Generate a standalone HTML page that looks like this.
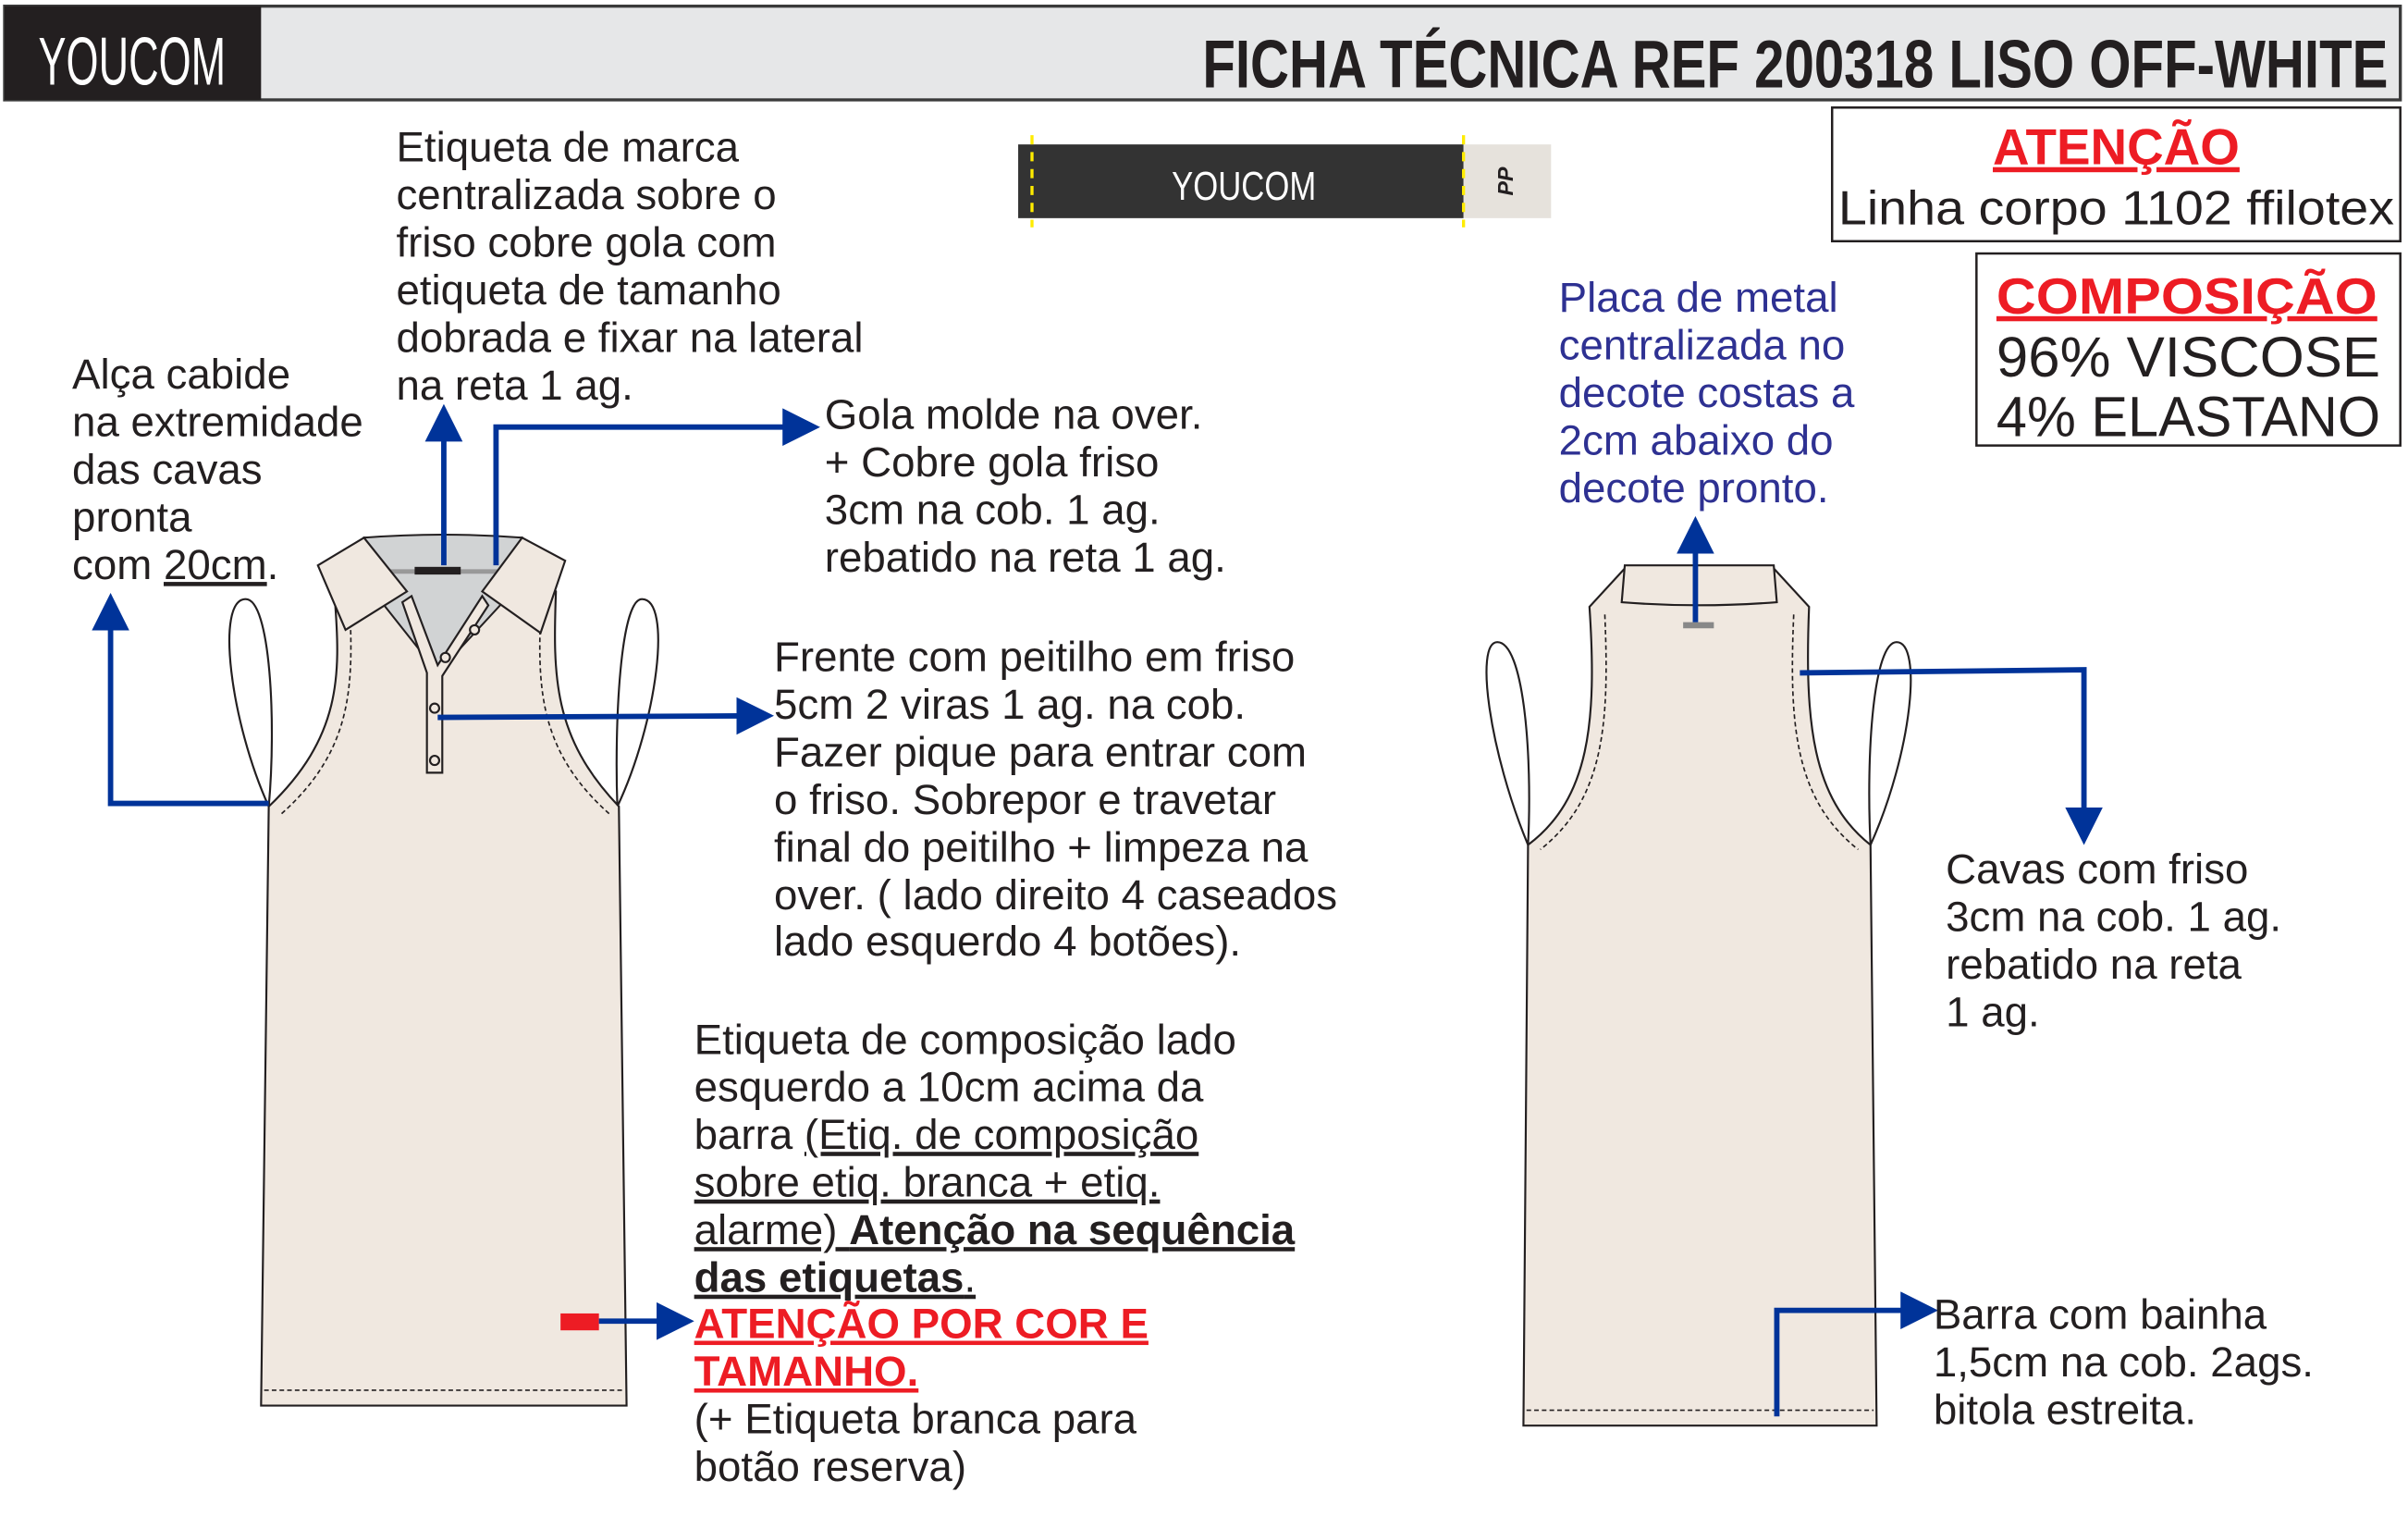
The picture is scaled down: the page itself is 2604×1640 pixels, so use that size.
<!DOCTYPE html>
<html><head><meta charset="utf-8"><style>
html,body{margin:0;padding:0;background:#fff}
svg{display:block}
text{font-family:"Liberation Sans",sans-serif;font-size:27.5px;fill:#231f20}
.b{fill:none;stroke:#003399;stroke-width:3.5}
.g{fill:#f0e8e0;stroke:#231f20;stroke-width:1.3}
.w{fill:#fff;stroke:#231f20;stroke-width:1.3}
.d{fill:none;stroke:#231f20;stroke-width:1;stroke-dasharray:3 2}
.u{text-decoration:underline}
</style></head><body>
<svg width="2604" height="1640" viewBox="0 0 1568 987.5" xmlns="http://www.w3.org/2000/svg">
<defs><marker id="a" viewBox="0 0 10 10" refX="1" refY="5" markerWidth="7" markerHeight="7" orient="auto"><path d="M0,0L10,5L0,10z" fill="#003399"/></marker></defs>
<rect x="3" y="4" width="1560" height="61" fill="#e6e7e8" stroke="#3a3a3a" stroke-width="2"/>
<rect x="3" y="4" width="167" height="61" fill="#231f20"/>
<text x="86" y="55" text-anchor="middle" style="font-size:44px;fill:#fff" textLength="122" lengthAdjust="spacingAndGlyphs">YOUCOM</text>
<text x="783" y="57" style="font-size:44px;font-weight:bold" textLength="772" lengthAdjust="spacingAndGlyphs">FICHA TÉCNICA REF 200318 LISO OFF-WHITE</text>
<rect x="663" y="94" width="290" height="48" fill="#333"/>
<rect x="953" y="94" width="57" height="48" fill="#e6e2dc"/>
<line x1="672" y1="88" x2="672" y2="148" stroke="#ffec00" stroke-width="2" stroke-dasharray="6 5"/>
<line x1="953" y1="88" x2="953" y2="148" stroke="#ffec00" stroke-width="2" stroke-dasharray="6 5"/>
<text x="810" y="130" text-anchor="middle" style="font-size:26px;fill:#fff" textLength="94" lengthAdjust="spacingAndGlyphs">YOUCOM</text>
<text x="985" y="118" transform="rotate(-90 985 118)" text-anchor="middle" style="font-size:14px;font-weight:bold;font-style:italic">PP</text>
<rect x="1193" y="70" width="370" height="87" fill="#fff" stroke="#231f20" stroke-width="1.5"/>
<text x="1378" y="107" text-anchor="middle" style="font-size:33px;font-weight:bold;fill:#ed1c24" class="u">ATENÇÃO</text>
<text x="1197" y="146" style="font-size:31px" textLength="362" lengthAdjust="spacingAndGlyphs">Linha corpo 1102 ffilotex</text>
<rect x="1287" y="165" width="276" height="125" fill="#fff" stroke="#231f20" stroke-width="1.5"/>
<text x="1300" y="204" style="font-size:33px;font-weight:bold;fill:#ed1c24" class="u" textLength="248" lengthAdjust="spacingAndGlyphs">COMPOSIÇÃO</text>
<text x="1300" y="245" style="font-size:37px" textLength="250" lengthAdjust="spacingAndGlyphs">96% VISCOSE</text>
<text x="1300" y="284" style="font-size:37px" textLength="250" lengthAdjust="spacingAndGlyphs">4% ELASTANO</text>
<!-- front garment -->
<path class="w" d="M175,525 C150,470 140,390 160,390 C176,390 180,470 175,525 Z"/>
<path class="w" d="M402,525 C400,470 404,390 418,390 C438,390 428,470 402,525 Z"/>
<path class="g" d="M218,390 C222,440 222,480 175,525 L170,915 L408,915 L403,525 C360,480 360,440 362,385 L340,350 L237,350 Z"/>
<path class="d" d="M228,400 C230,450 228,490 183,530 M352,400 C350,450 352,490 397,530 M172,905 L406,905"/>
<path d="M237,350 Q288,346 340,350 L334,385 L285,438 L243,385 Z" fill="#d1d3d4" stroke="#231f20" stroke-width="1.2"/>
<line x1="240" y1="372" x2="336" y2="372" stroke="#999" stroke-width="3"/>
<rect x="270" y="369" width="30" height="5" fill="#231f20"/>
<path class="g" d="M237,350 L207,368 L225,410 L265,385 Z M340,350 L368,365 L352,412 L314,385 Z"/>
<path class="g" d="M262,392 L278,438 L278,503 L288,503 L288,440 L318,394 L314,388 L285,433 L268,388 Z"/>
<circle cx="283" cy="461" r="3" class="g"/><circle cx="283" cy="495" r="3" class="g"/><circle cx="309" cy="410" r="3" class="g"/><circle cx="290" cy="428" r="3" class="g"/>
<!-- back garment -->
<path class="w" d="M995,550 C970,490 960,418 975,418 C992,418 998,490 995,550 Z"/>
<path class="w" d="M1218,550 C1215,490 1220,418 1235,418 C1252,418 1245,490 1218,550 Z"/>
<path class="g" d="M1035,395 C1040,470 1035,520 995,550 L992,928 L1222,928 L1218,550 C1180,520 1175,470 1178,395 L1155,370 L1058,370 Z"/>
<path class="d" d="M1045,400 C1048,470 1045,520 1003,553 M1168,400 C1165,470 1168,520 1210,553 M994,918 L1220,918"/>
<path class="g" d="M1058,368 L1155,368 L1157,392 Q1106,396 1056,392 Z"/>
<rect x="1096" y="405" width="20" height="4" fill="#888"/>
<!-- arrows -->
<polyline class="b" points="175,523 72,523 72,408" marker-end="url(#a)"/>
<line class="b" x1="289" y1="368" x2="289" y2="285" marker-end="url(#a)"/>
<polyline class="b" points="323,368 323,278 512,278" marker-end="url(#a)"/>
<line class="b" x1="285" y1="467" x2="482" y2="466" marker-end="url(#a)"/>
<rect x="365" y="855" width="25" height="11" fill="#ed1c24"/>
<line class="b" x1="390" y1="860" x2="430" y2="860" marker-end="url(#a)"/>
<line class="b" x1="1104" y1="405" x2="1104" y2="358" marker-end="url(#a)"/>
<polyline class="b" points="1172,438 1357,436 1357,528" marker-end="url(#a)"/>
<polyline class="b" points="1157,922 1157,853 1240,853" marker-end="url(#a)"/>
<!-- texts -->
<text x="258" y="105">Etiqueta de marca</text><text x="258" y="136">centralizada sobre o</text><text x="258" y="167">friso cobre gola com</text><text x="258" y="198">etiqueta de tamanho</text><text x="258" y="229">dobrada e fixar na lateral</text><text x="258" y="260">na reta 1 ag.</text>
<text x="47" y="253">Alça cabide</text><text x="47" y="284">na extremidade</text><text x="47" y="315">das cavas</text><text x="47" y="346">pronta</text><text x="47" y="377">com <tspan class="u">20cm</tspan>.</text>
<text x="537" y="279">Gola molde na over.</text><text x="537" y="310">+ Cobre gola friso</text><text x="537" y="341">3cm na cob. 1 ag.</text><text x="537" y="372">rebatido na reta 1 ag.</text>
<text x="504" y="437">Frente com peitilho em friso</text><text x="504" y="468">5cm 2 viras 1 ag. na cob.</text><text x="504" y="499">Fazer pique para entrar com</text><text x="504" y="530">o friso. Sobrepor e travetar</text><text x="504" y="561">final do peitilho + limpeza na</text><text x="504" y="592">over. ( lado direito 4 caseados</text><text x="504" y="622">lado esquerdo 4 botões).</text>
<text x="452" y="686">Etiqueta de composição lado</text><text x="452" y="717">esquerdo a 10cm acima da</text><text x="452" y="748">barra <tspan class="u">(Etiq. de composição</tspan></text><text x="452" y="779" class="u">sobre etiq. branca + etiq.</text><text x="452" y="810" class="u">alarme) <tspan style="font-weight:bold">Atenção na sequência</tspan></text><text x="452" y="841" class="u"><tspan style="font-weight:bold">das etiquetas</tspan>.</text>
<text x="452" y="871" class="u" style="fill:#ed1c24;font-weight:bold">ATENÇÃO POR COR E</text><text x="452" y="902" class="u" style="fill:#ed1c24;font-weight:bold">TAMANHO.</text>
<text x="452" y="933">(+ Etiqueta branca para</text><text x="452" y="964">botão reserva)</text>
<text x="1015" y="203" style="fill:#2e3192">Placa de metal</text><text x="1015" y="234" style="fill:#2e3192">centralizada no</text><text x="1015" y="265" style="fill:#2e3192">decote costas a</text><text x="1015" y="296" style="fill:#2e3192">2cm abaixo do</text><text x="1015" y="327" style="fill:#2e3192">decote pronto.</text>
<text x="1267" y="575">Cavas com friso</text><text x="1267" y="606">3cm na cob. 1 ag.</text><text x="1267" y="637">rebatido na reta</text><text x="1267" y="668">1 ag.</text>
<text x="1259" y="865">Barra com bainha</text><text x="1259" y="896">1,5cm na cob. 2ags.</text><text x="1259" y="927">bitola estreita.</text>
</svg>
</body></html>
